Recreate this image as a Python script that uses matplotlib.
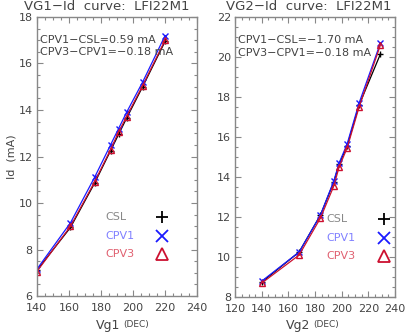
import numpy as np
import matplotlib
matplotlib.use("Agg")
import matplotlib.pyplot as plt
from matplotlib.ticker import MultipleLocator

# VG1 sweep
vg1 = [140, 161, 176, 186, 191, 196, 206, 220]
csl_1 = [7.10, 8.95, 10.85, 12.25, 12.95, 13.65, 15.00, 16.95]
cpv1_1 = [7.15, 9.15, 11.10, 12.50, 13.20, 13.90, 15.20, 17.20]
cpv3_1 = [7.05, 9.00, 10.90, 12.30, 13.05, 13.72, 15.05, 17.00]

# VG2 sweep
vg2 = [140, 168, 184, 194, 198, 204, 213, 229]
csl_2 = [8.75, 10.25, 12.10, 13.75, 14.65, 15.55, 17.60, 20.15]
cpv1_2 = [8.80, 10.25, 12.10, 13.80, 14.70, 15.65, 17.70, 20.70]
cpv3_2 = [8.70, 10.10, 11.95, 13.55, 14.50, 15.45, 17.50, 20.60]

notes_1 = ["CPV1\u2212CSL=0.59 mA", "CPV3\u2212CPV1=\u22120.18 mA"]
notes_2 = ["CPV1\u2212CSL=\u22121.70 mA", "CPV3\u2212CPV1=\u22120.18 mA"]

txt = '#444444'
axc = '#888888'
c_csl = 'black'
c_cpv1 = '#1a1aff'
c_cpv3 = '#cc1030'

plt.rcParams['font.family'] = 'DejaVu Sans'

W, H = 409, 333
fig = plt.figure(figsize=(4.09, 3.33), dpi=100)
ax1 = fig.add_axes([0.090, 0.111, 0.392, 0.838])
ax2 = fig.add_axes([0.575, 0.108, 0.391, 0.841])


def style(ax, xlim, ylim):
    ax.set_xlim(*xlim)
    ax.set_ylim(*ylim)
    ax.xaxis.set_major_locator(MultipleLocator(20))
    ax.xaxis.set_minor_locator(MultipleLocator(5))
    ax.yaxis.set_major_locator(MultipleLocator(2))
    ax.yaxis.set_minor_locator(MultipleLocator(0.5))
    ax.tick_params(which='both', direction='in', top=True, right=True,
                   colors=axc, labelcolor=txt, labelsize=8, width=0.8)
    ax.tick_params(axis='x', pad=5)
    ax.tick_params(axis='y', pad=3)
    ax.tick_params(which='major', length=4)
    ax.tick_params(which='minor', length=2)
    for s in ax.spines.values():
        s.set_color(axc)
        s.set_linewidth(1.0)


def draw(ax, x, a, b, c):
    ax.plot(x, a, color=c_csl, lw=0.9, marker='+', ms=5, mew=1.0)
    ax.plot(x, b, color=c_cpv1, lw=0.9, marker='x', ms=5, mew=1.0)
    ax.plot(x, c, color=c_cpv3, lw=0.9, marker='^', ms=5, mew=1.0, mfc='none')


def legend(ax, xt, xm, ys):
    labels = ['CSL', 'CPV1', 'CPV3']
    tcols = ['#888888', '#8080ff', '#e06070']
    mk = ['+', 'x', '^']
    mcols = [c_csl, c_cpv1, c_cpv3]
    for lab, tc, m, mc, y in zip(labels, tcols, mk, mcols, ys):
        ax.text(xt, y, lab, color=tc, fontsize=8, va='center', transform=ax.transAxes)
        ax.plot([xm], [y], marker=m, color=mc, ms=9, mew=1.3, mfc='none',
                transform=ax.transAxes, clip_on=False)


def xlabel(x_end, name):
    fig.text(x_end / W, 1 - 325 / H, name, fontsize=9, color=txt, ha='right', va='center')
    fig.text((x_end + 3) / W, 1 - 325 / H, '(DEC)', fontsize=6.5, color=txt, ha='left', va='center')


style(ax1, (140, 240), (6, 18))
draw(ax1, vg1, csl_1, cpv1_1, cpv3_1)
fig.text(107 / W, 1 - 6 / H, 'VG1\u2212Id  curve:  LFI22M1', fontsize=9.5, color=txt, ha='center', va='center')
fig.text(12 / W, 0.53, 'Id  (mA)', fontsize=8, color=txt, rotation=90, ha='center', va='center')
xlabel(120, 'Vg1')
ax1.text(0.02, 0.918, notes_1[0], transform=ax1.transAxes, fontsize=8, color=txt, va='center')
ax1.text(0.02, 0.875, notes_1[1], transform=ax1.transAxes, fontsize=8, color=txt, va='center')
legend(ax1, 0.43, 0.78, [0.285, 0.215, 0.15])

style(ax2, (120, 240), (8, 22))
draw(ax2, vg2, csl_2, cpv1_2, cpv3_2)
fig.text(309 / W, 1 - 6 / H, 'VG2\u2212Id  curve:  LFI22M1', fontsize=9.5, color=txt, ha='center', va='center')
xlabel(310, 'Vg2')
ax2.text(0.02, 0.918, notes_2[0], transform=ax2.transAxes, fontsize=8, color=txt, va='center')
ax2.text(0.02, 0.872, notes_2[1], transform=ax2.transAxes, fontsize=8, color=txt, va='center')
legend(ax2, 0.57, 0.93, [0.28, 0.21, 0.145])

fig.savefig('out.png', dpi=100)
